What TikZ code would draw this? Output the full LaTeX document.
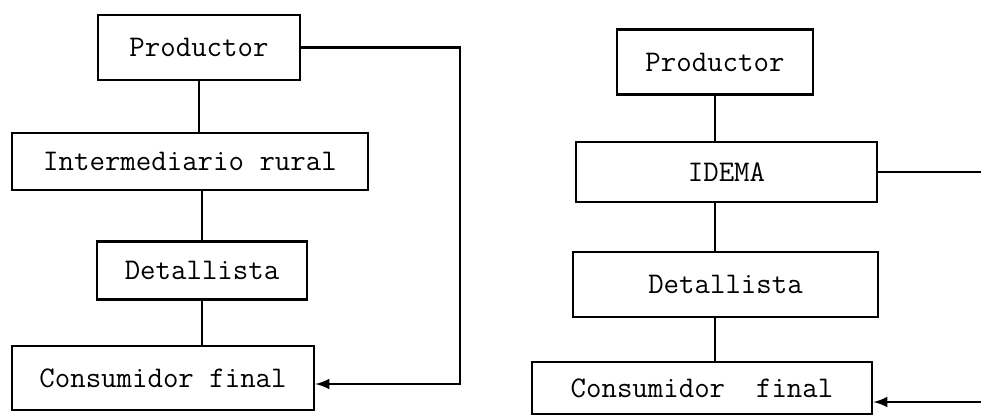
\documentclass[tikz,border=0pt]{standalone}
\usepackage{tikz}
\usetikzlibrary{arrows,positioning}
\tikzstyle{etapa}=[
	rectangle,
	draw=black,
	line width=1.4pt,
	inner sep=0pt,
	font=\ttfamily\fontsize{15}{17}\selectfont
]
\tikzstyle{enlace}=[
	line width=1.4pt
]
\tikzstyle{retorno}=[
	->,
	>=latex,
	line width=1.4pt
]

\begin{document}
\begin{tikzpicture}[x=0.5pt,y=-0.5pt]
\useasboundingbox (0,0) rectangle (981,419);
% canal con intermediario rural
\node [etapa, minimum width=101pt, minimum height=32.5pt] (ProductorA) at (199,47.5) {Productor};
\node [etapa, minimum width=178pt, minimum height=28.5pt] (IntermediarioA) at (190,161.5) {Intermediario rural};
\node [etapa, minimum width=105pt, minimum height=29pt] (DetallistaA) at (202,270.5) {Detallista};
\node [etapa, minimum width=151pt, minimum height=32pt] (ConsumidorA) at (163,378) {Consumidor final};
\coordinate (RetornoA) at (460,384);
\draw [enlace] (ProductorA.south) -- (ProductorA.south |- IntermediarioA.north);
\draw [enlace] (DetallistaA.north |- IntermediarioA.south) -- (DetallistaA.north);
\draw [enlace] (DetallistaA.south) -- (DetallistaA.south |- ConsumidorA.north);
\draw [retorno] (ProductorA.east) -| (RetornoA) -- (ConsumidorA.east |- RetornoA);
% canal con IDEMA
\node [etapa, minimum width=98pt, minimum height=32.5pt] (ProductorB) at (715,62) {Productor};
\node [etapa, minimum width=150.5pt, minimum height=30pt] (IDEMA) at (726.5,172) {IDEMA};
\node [etapa, minimum width=152.5pt, minimum height=32.5pt] (DetallistaB) at (725.5,284.5) {Detallista};
\node [etapa, minimum width=170pt, minimum height=26pt] (ConsumidorB) at (702,388) {Consumidor~~final};
\coordinate (SalidaB) at (981,172);
\coordinate (EntradaB) at (981,402);
\draw [enlace] (ProductorB.south) -- (ProductorB.south |- IDEMA.north);
\draw [enlace] (ProductorB.south |- IDEMA.south) -- (ProductorB.south |- DetallistaB.north);
\draw [enlace] (ProductorB.south |- DetallistaB.south) -- (ProductorB.south |- ConsumidorB.north);
\draw [enlace] (IDEMA.east) -- (SalidaB);
\draw [retorno] (EntradaB) -- (ConsumidorB.east |- EntradaB);
\end{tikzpicture}
\end{document}
